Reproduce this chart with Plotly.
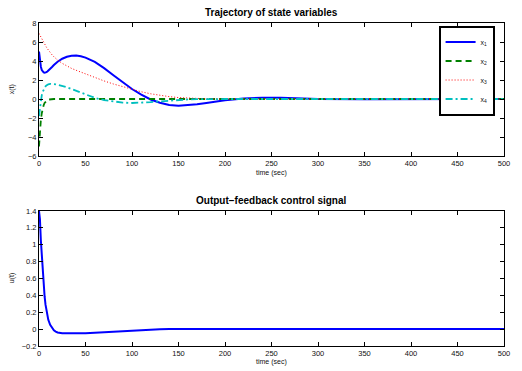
import plotly.graph_objects as go

t = [0, 1, 2, 3, 4, 5, 6, 7, 8, 9, 10, 12, 14, 16, 18, 20, 25, 30, 35, 40, 45, 50,
     60, 70, 80, 90, 100, 110, 120, 130, 140, 150, 160, 170, 180, 190, 200,
     220, 240, 260, 280, 300, 350, 400, 450, 500]

x1 = [5.0, 4.0, 3.4, 3.05, 2.88, 2.8, 2.77, 2.78, 2.83, 2.9, 2.98, 3.17, 3.37, 3.57, 3.75, 3.92,
      4.24, 4.45, 4.56, 4.57, 4.5, 4.36, 3.9, 3.25, 2.5, 1.75, 1.05, 0.45, -0.05, -0.4, -0.62,
      -0.7, -0.66, -0.55, -0.42, -0.27, -0.13, 0.06, 0.14, 0.12, 0.06, 0.01, -0.02, 0.0, 0.0, 0.0]
x2 = [-5.0, -3.3, -2.2, -1.5, -1.0, -0.65, -0.42, -0.27, -0.17, -0.1, -0.06, -0.02, 0, 0, 0, 0,
      0, 0, 0, 0, 0, 0, 0, 0, 0, 0, 0, 0, 0, 0, 0, 0, 0, 0, 0, 0, 0, 0, 0, 0, 0, 0, 0, 0, 0, 0]
x3 = [6.9, 6.7, 6.5, 6.3, 6.1, 5.9, 5.75, 5.6, 5.45, 5.3, 5.15, 4.9, 4.65, 4.45, 4.25, 4.1,
      3.75, 3.45, 3.22, 3.02, 2.82, 2.62, 2.25, 1.9, 1.58, 1.28, 1.0, 0.76, 0.55, 0.38, 0.25,
      0.15, 0.08, 0.04, 0.02, 0.01, 0.0, 0, 0, 0, 0, 0, 0, 0, 0, 0]
x4 = [-1.8, -0.8, -0.1, 0.4, 0.75, 1.0, 1.2, 1.33, 1.43, 1.5, 1.55, 1.6, 1.6, 1.58, 1.54, 1.5,
      1.38, 1.24, 1.05, 0.85, 0.65, 0.45, 0.12, -0.12, -0.28, -0.38, -0.42, -0.4, -0.33, -0.25,
      -0.17, -0.1, -0.05, -0.02, 0, 0, 0, 0, 0, 0, 0, 0, 0, 0, 0, 0]
u = [1.4, 1.3, 1.05, 0.85, 0.66, 0.51, 0.39, 0.29, 0.22, 0.16, 0.11, 0.05, 0.01, -0.015, -0.03,
     -0.04, -0.05, -0.052, -0.053, -0.052, -0.05, -0.048, -0.042, -0.035, -0.027, -0.02, -0.014,
     -0.009, -0.005, -0.002, 0.0, 0.0, -0.001, -0.002, -0.002, -0.003, -0.003, -0.003, -0.002,
     -0.001, 0, 0, 0, 0, 0, 0]

x_ticks = [0, 50, 100, 150, 200, 250, 300, 350, 400, 450, 500]
y1_ticks = [-6, -4, -2, 0, 2, 4, 6, 8]
y2_ticks = [-0.2, 0, 0.2, 0.4, 0.6, 0.8, 1.0, 1.2, 1.4]
y2_text = ["\u22120.2", "0", "0.2", "0.4", "0.6", "0.8", "1", "1.2", "1.4"]
y1_text = ["\u22126", "\u22124", "\u22122", "0", "2", "4", "6", "8"]

FONT = "Liberation Sans, Arial, sans-serif"
W, H = 522, 371
ML, MR, MT, MB = 39, 14, 23, 25
PW, PH = W - ML - MR, H - MT - MB


def px_x(p):
    return (p - ML) / PW


def px_y(p):
    return (H - MB - p) / PH


fig = go.Figure()
fig.add_trace(go.Scatter(x=t, y=x1, name="x<sub>1</sub>", mode="lines",
                         line=dict(color="#0000ff", width=2), xaxis="x", yaxis="y"))
fig.add_trace(go.Scatter(x=t, y=x2, name="x<sub>2</sub>", mode="lines",
                         line=dict(color="#008000", width=1.8, dash="6px,4px"), xaxis="x", yaxis="y"))
fig.add_trace(go.Scatter(x=t, y=x3, name="x<sub>3</sub>", mode="lines",
                         line=dict(color="#ff0000", width=1, dash="1px,2px"), xaxis="x", yaxis="y"))
fig.add_trace(go.Scatter(x=t, y=x4, name="x<sub>4</sub>", mode="lines",
                         line=dict(color="#00bfbf", width=1.8, dash="7px,3px,2px,3px"), xaxis="x", yaxis="y"))
fig.add_trace(go.Scatter(x=t, y=u, name="u", mode="lines", showlegend=False,
                         line=dict(color="#0000ff", width=2), xaxis="x2", yaxis="y2"))

axis_common = dict(showgrid=False, zeroline=False, showline=True, linecolor="black", linewidth=1,
                   mirror="ticks", ticks="inside", ticklen=4, tickcolor="black",
                   tickfont=dict(size=7.5, family=FONT, color="#111"))

ann_font = dict(size=7, family=FONT, color="#111")
title_font = dict(size=10, family=FONT, color="black")

fig.update_layout(
    width=W, height=H,
    margin=dict(l=ML, r=MR, t=MT, b=MB),
    paper_bgcolor="white", plot_bgcolor="white",
    font=dict(family=FONT),
    xaxis=dict(domain=[0, 1], range=[0, 500], tickvals=x_ticks, anchor="y", **axis_common),
    yaxis=dict(domain=[px_y(156), 1.0], range=[-6, 8], tickvals=y1_ticks, ticktext=y1_text,
               anchor="x", **axis_common),
    xaxis2=dict(domain=[0, 1], range=[0, 500], tickvals=x_ticks, anchor="y2", **axis_common),
    yaxis2=dict(domain=[0, px_y(211)], range=[-0.2, 1.4], tickvals=y2_ticks, ticktext=y2_text,
                anchor="x2", **axis_common),
    legend=dict(x=px_x(498.5), y=px_y(25.5), xanchor="right", yanchor="top",
                bgcolor="white", bordercolor="black", borderwidth=2,
                font=dict(size=7, family=FONT, color="#111"), tracegroupgap=0, itemwidth=30),
    showlegend=True,
    annotations=[
        dict(text="<b>Trajectory of state variables</b>", x=0.5, y=px_y(12),
             xref="paper", yref="paper", showarrow=False, font=title_font, yanchor="middle"),
        dict(text="<b>Output\u2212feedback control signal</b>", x=0.5, y=px_y(200),
             xref="paper", yref="paper", showarrow=False, font=title_font, yanchor="middle"),
        dict(text="time (sec)", x=0.5, y=px_y(173), xref="paper", yref="paper", showarrow=False,
             font=ann_font, yanchor="middle"),
        dict(text="time (sec)", x=0.5, y=px_y(361.5), xref="paper", yref="paper", showarrow=False,
             font=ann_font, yanchor="middle"),
        dict(text="x(t)", x=px_x(12), y=px_y(89), xref="paper", yref="paper", showarrow=False,
             textangle=-90, font=ann_font, yanchor="middle", xanchor="center"),
        dict(text="u(t)", x=px_x(12), y=px_y(278), xref="paper", yref="paper", showarrow=False,
             textangle=-90, font=ann_font, yanchor="middle", xanchor="center"),
    ],
)

fig.write_html("out.html")
